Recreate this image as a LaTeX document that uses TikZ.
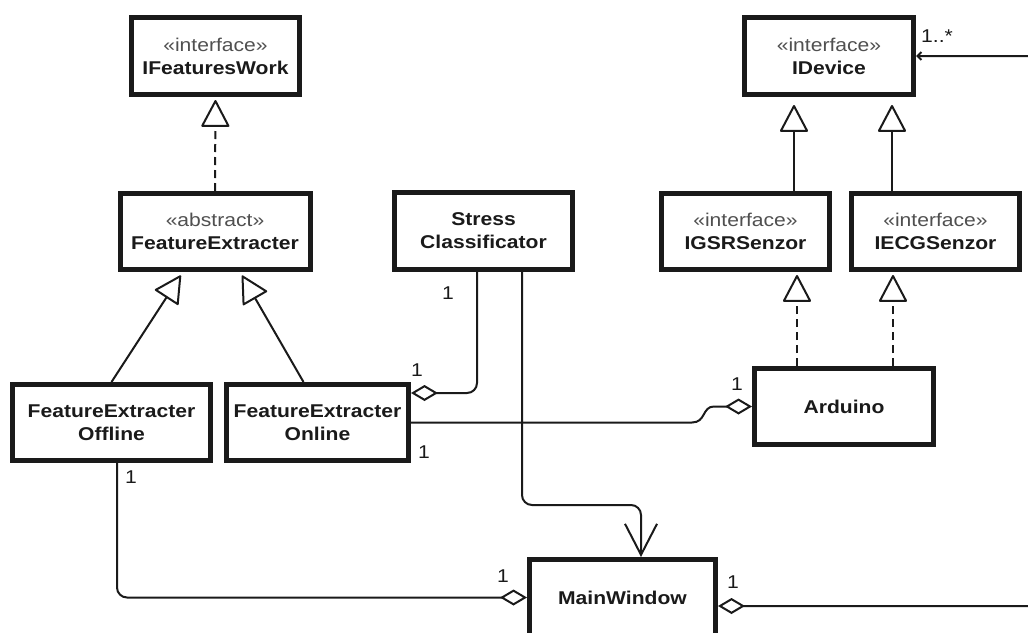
\documentclass[tikz,border=0pt]{standalone}
\usepackage{fontspec}
\setmainfont{Liberation Sans}[FakeStretch=1.14]
\usetikzlibrary{arrows.meta,calc}
\definecolor{ink}{HTML}{1A1A1A}
\definecolor{stereogray}{HTML}{505050}
\newcommand{\umlkind}[1]{{\fontseries{m}\selectfont\color{stereogray}\guillemotleft #1\guillemotright}}
\begin{document}
\begin{tikzpicture}[x=1pt,y=-1pt,
  cls/.style={draw=ink, line width=5pt, inner sep=0pt, align=center, fill=white,
    font=\fontsize{18.5}{23}\selectfont\bfseries, text=ink},
  link/.style={draw=ink, line width=2pt, rounded corners=10pt},
  inherit/.style={link, -{Triangle[open, length=28pt, width=29pt, round]}},
  realize/.style={inherit, dash pattern=on 8pt off 5pt},
  aggr/.style={link, {Diamond[open, length=27pt, width=16pt]}-},
  uses/.style={link, -{Straight Barb[length=31pt, width=32pt]}},
  mult/.style={font=\fontsize{18.5}{20}\selectfont, text=ink, inner sep=0pt}
]
\useasboundingbox (0,0) rectangle (1028,632);
\clip (0,0) rectangle (1028,632);

% classes and interfaces
\node[cls, minimum width=168pt, minimum height=77pt] (ifw) at (215.5,56) {\umlkind{interface}\\IFeaturesWork};
\node[cls, minimum width=190pt, minimum height=76pt] (fe) at (215,231.5) {\umlkind{abstract}\\FeatureExtracter};
\node[cls, minimum width=178pt, minimum height=77pt] (sc) at (483.5,231) {Stress\\Classificator};
\node[cls, minimum width=169pt, minimum height=77pt] (idev) at (829,56) {\umlkind{interface}\\IDevice};
\node[cls, minimum width=168pt, minimum height=76pt] (gsr) at (745.5,231.5) {\umlkind{interface}\\IGSRSenzor};
\node[cls, minimum width=168pt, minimum height=76pt] (ecg) at (935.5,231.5) {\umlkind{interface}\\IECGSenzor};
\node[cls, minimum width=198pt, minimum height=76pt] (off) at (111.5,422.5) {FeatureExtracter\\Offline};
\node[cls, minimum width=182pt, minimum height=76pt] (on) at (317.5,422.5) {FeatureExtracter\\Online};
\node[cls, minimum width=179pt, minimum height=76pt] (ard) at (844,406.5) {Arduino};
\node[cls, minimum width=186pt, minimum height=76pt] (mw) at (622.5,597.5) {MainWindow};

% generalisation and realisation
\draw[realize, shorten >=3pt] (fe.north) -- (ifw.south);
\draw[inherit, shorten >=4pt] (off.north) -- ([xshift=-32pt]fe.south);
\draw[inherit, shorten >=4pt] ([xshift=-14pt]on.north) -- ([xshift=25pt]fe.south);
\draw[inherit, shorten >=8pt] ([xshift=48.5pt]gsr.north) -- ([xshift=-35pt]idev.south);
\draw[inherit, shorten >=8pt] ([xshift=-43.5pt]ecg.north) -- ([xshift=63pt]idev.south);
\draw[realize, shorten >=3pt] ([xshift=-47pt]ard.north) -- ([xshift=51.5pt]gsr.south);
\draw[realize, shorten >=3pt] ([xshift=49pt]ard.north) -- ([xshift=-42.5pt]ecg.south);

% aggregations and dependency
\draw[aggr] ([yshift=29.5pt]on.east) -| ([xshift=-6.5pt]sc.south);
\draw[uses] ([xshift=38.5pt]sc.south) -- ++(0,233) -| ([xshift=18.5pt]mw.north);
\draw[aggr, sharp corners] (ard.west) -- (714,406.5)
  .. controls (702,406.5) and (706,422.5) .. (692,422.5) -- (on.east);
\draw[aggr] (mw.west) -| ([xshift=5.5pt]off.south);
\coordinate (loop) at (1046,300);
\draw[link, {Diamond[open, length=27pt, width=16pt]}-{Straight Barb[length=4pt, width=8pt]}]
  ([yshift=-8.5pt]mw.east) -| (loop) |- (idev.east);

% multiplicities
\node[mult] (m1) at (448,293) {1};
\node[mult] (m2) at (417,370) {1};
\node[mult] (m3) at (424,452) {1};
\node[mult] (m4) at (737,384) {1};
\node[mult] (m5) at (131,477) {1};
\node[mult] (m6) at (503,576) {1};
\node[mult] (m7) at (733,582) {1};
\node[mult] (m8) at (937,36) {1..*};
\end{tikzpicture}
\end{document}
